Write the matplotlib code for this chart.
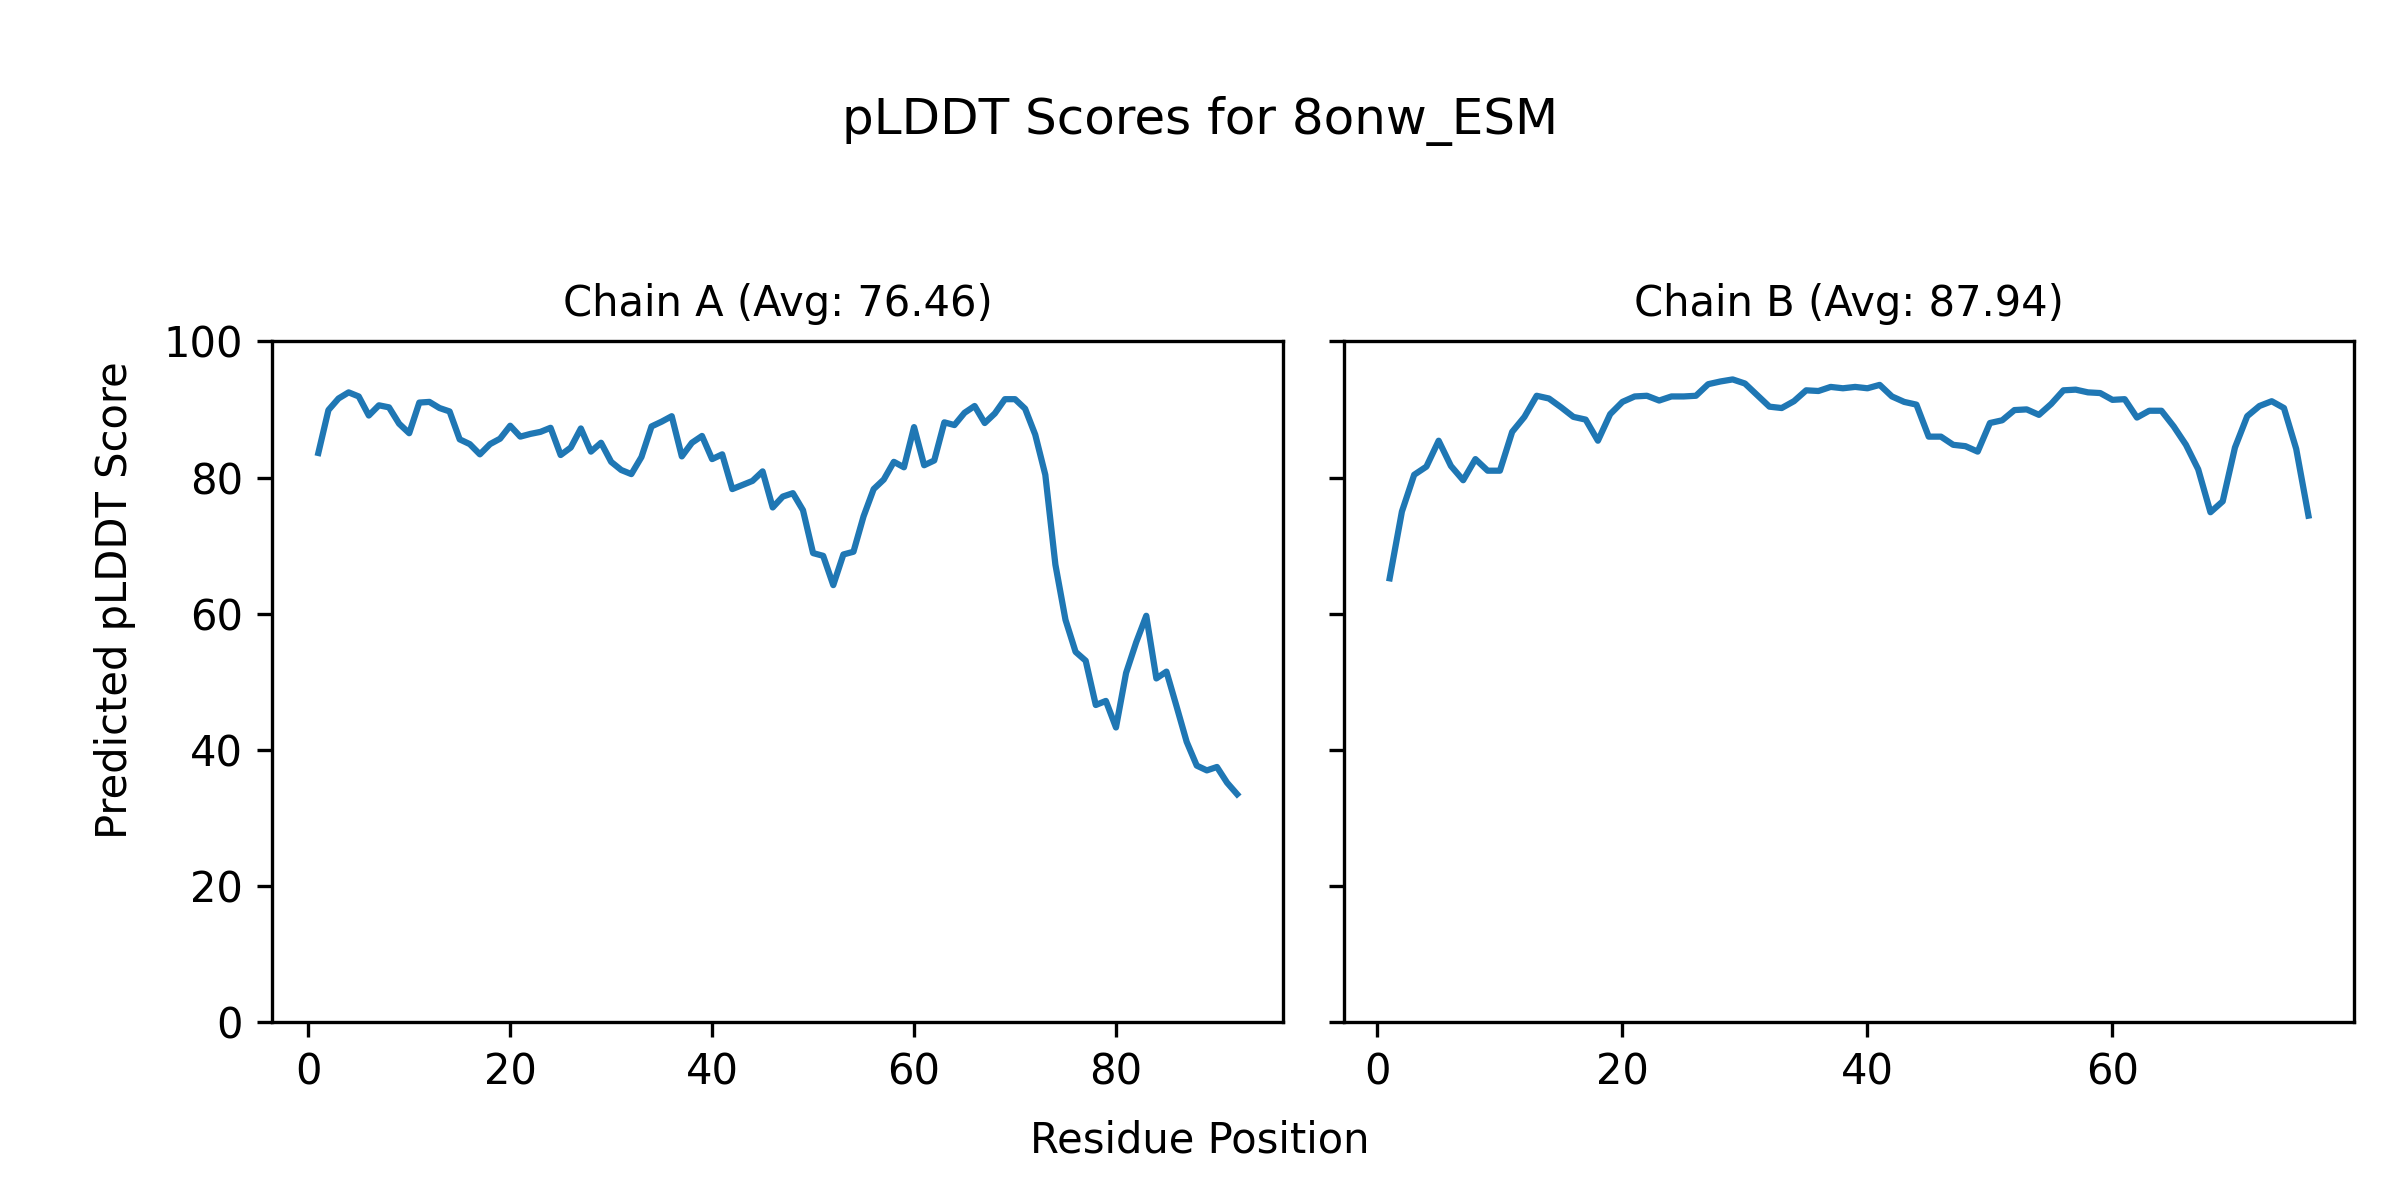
"""pLDDT per-residue scores for the two chains of 8onw_ESM."""

import matplotlib

matplotlib.use("Agg")
import matplotlib.pyplot as plt

TITLE = "pLDDT Scores for 8onw_ESM"

chain_a = [
    83.6, 89.9, 91.6, 92.5, 91.9, 89.1, 90.6, 90.3, 87.9, 86.5,
    91.0, 91.1, 90.2, 89.7, 85.6, 84.9, 83.4, 84.9, 85.7, 87.6,
    86.0, 86.4, 86.7, 87.3, 83.3, 84.4, 87.2, 83.8, 85.1, 82.3,
    81.1, 80.5, 83.0, 87.5, 88.2, 89.0, 83.1, 85.1, 86.1, 82.7,
    83.4, 78.3, 78.9, 79.5, 80.9, 75.6, 77.2, 77.7, 75.2, 68.9,
    68.5, 64.2, 68.7, 69.1, 74.3, 78.3, 79.7, 82.3, 81.5, 87.4,
    81.8, 82.5, 88.1, 87.7, 89.5, 90.5, 88.0, 89.4, 91.5, 91.5,
    90.1, 86.3, 80.4, 67.2, 59.1, 54.4, 53.1, 46.6, 47.2, 43.3,
    51.3, 55.8, 59.7, 50.5, 51.5, 46.4, 41.2, 37.7, 37.0, 37.5,
    35.2, 33.5,
]

chain_b = [
    65.2, 75.0, 80.4, 81.6, 85.4, 81.7, 79.6, 82.7, 81.0, 81.0,
    86.7, 88.9, 92.0, 91.6, 90.3, 88.9, 88.5, 85.4, 89.3, 91.1,
    91.9, 92.0, 91.3, 91.9, 91.9, 92.0, 93.7, 94.1, 94.4, 93.8,
    92.1, 90.4, 90.2, 91.2, 92.8, 92.7, 93.3, 93.1, 93.3, 93.1,
    93.6, 91.9, 91.1, 90.7, 86.0, 86.0, 84.8, 84.6, 83.8, 88.0,
    88.4, 89.9, 90.0, 89.2, 90.8, 92.8, 92.9, 92.5, 92.4, 91.4,
    91.5, 88.8, 89.8, 89.8, 87.5, 84.8, 81.2, 74.9, 76.5, 84.4,
    89.0, 90.5, 91.2, 90.2, 84.2, 74.4,
]

chains = {"A": chain_a, "B": chain_b}
averages = {"A": 76.46, "B": 87.94}


def main() -> None:
    fig, axes = plt.subplots(1, 2, figsize=(8, 4), dpi=300, sharey=True)
    for ax, (name, scores) in zip(axes, chains.items()):
        xs = list(range(1, len(scores) + 1))
        ax.plot(xs, scores, color="#1f77b4")
        ax.set_title(f"Chain {name} (Avg: {averages[name]:.2f})", fontsize=10)
        ax.set_ylim(0, 100)
    fig.subplots_adjust(left=0.1135, right=0.981, top=0.7156, bottom=0.148, wspace=0.06)
    fig.suptitle(TITLE, fontsize=12, y=0.92)
    fig.supxlabel("Residue Position", fontsize=10, y=0.032)
    fig.supylabel("Predicted pLDDT Score", fontsize=10, x=0.039)
    fig.savefig("out.png", dpi=300)


if __name__ == "__main__":
    main()
